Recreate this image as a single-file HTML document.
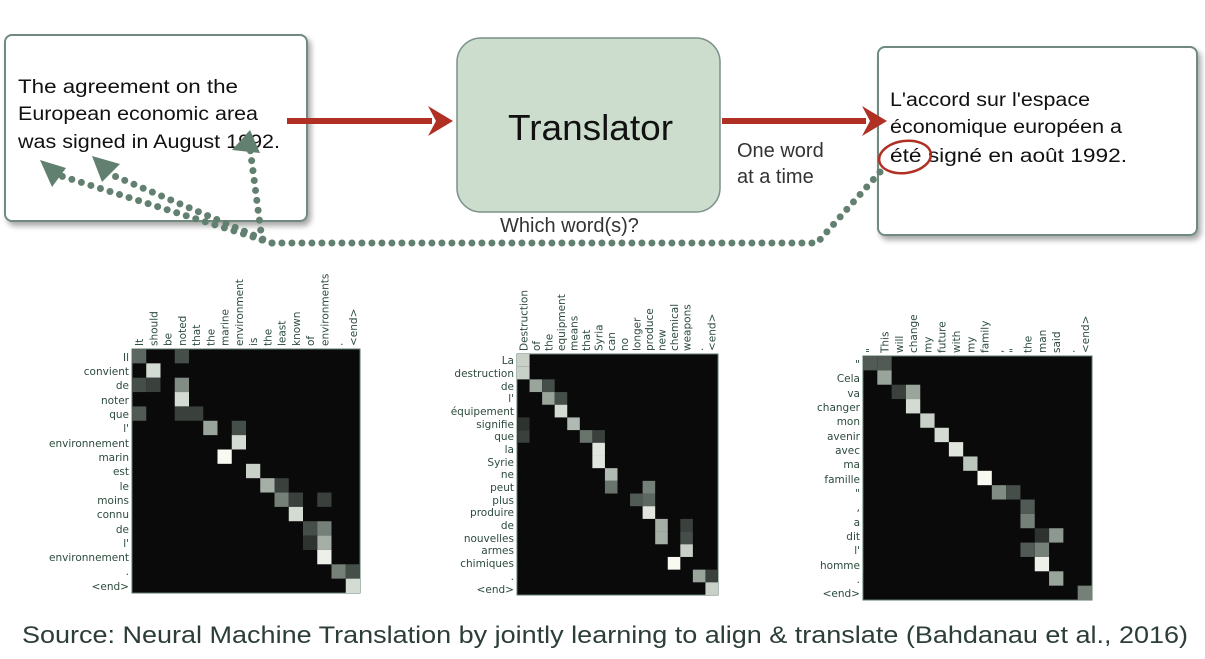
<!DOCTYPE html>
<html><head><meta charset="utf-8"><style>
html,body{margin:0;padding:0;background:#fff;width:1205px;height:659px;overflow:hidden}
svg{display:block}
.t{font-family:"Liberation Sans",sans-serif;fill:#111}
.l{font-family:"DejaVu Sans","Liberation Sans",sans-serif;font-size:10.5px;fill:#2c4a3c}
</style></head><body>
<svg id="s" width="1205" height="659" viewBox="0 0 1205 659" xmlns="http://www.w3.org/2000/svg">
<defs>
<filter id="sh" x="-10%" y="-10%" width="130%" height="130%"><feGaussianBlur in="SourceAlpha" stdDeviation="3"/><feOffset dx="3" dy="4"/><feComponentTransfer><feFuncA type="linear" slope="0.35"/></feComponentTransfer><feMerge><feMergeNode/><feMergeNode in="SourceGraphic"/></feMerge></filter>
</defs>
<rect x="5" y="35" width="302" height="186" rx="7" fill="#fff" stroke="#6f8a80" stroke-width="2" filter="url(#sh)"/>
<rect x="457" y="38" width="263" height="174" rx="24" fill="#ccdccd" stroke="#7a9088" stroke-width="1.5"/>
<rect x="878" y="47" width="319" height="188" rx="7" fill="#fff" stroke="#6f8a80" stroke-width="2" filter="url(#sh)"/>
<g lengthAdjust="spacingAndGlyphs">
<text class="t" x="18" y="93" font-size="19" textLength="220" lengthAdjust="spacingAndGlyphs">The agreement on the</text>
<text class="t" x="18" y="120" font-size="19" textLength="240" lengthAdjust="spacingAndGlyphs">European economic area</text>
<text class="t" x="18" y="148" font-size="19" textLength="262" lengthAdjust="spacingAndGlyphs">was signed in August 1992.</text>
<text class="t" x="508" y="140" font-size="36" textLength="165" lengthAdjust="spacingAndGlyphs">Translator</text>
<text class="t" x="890" y="106" font-size="19" textLength="200" lengthAdjust="spacingAndGlyphs">L'accord sur l'espace</text>
<text class="t" x="890" y="133" font-size="19" textLength="232" lengthAdjust="spacingAndGlyphs">économique européen a</text>
<text class="t" x="890" y="162" font-size="19" textLength="237" lengthAdjust="spacingAndGlyphs">été signé en août 1992.</text>
</g>
<ellipse cx="905" cy="157" rx="26" ry="16" fill="none" stroke="#b03024" stroke-width="2.5" transform="rotate(-8 905 157)"/>
<text class="t" x="737" y="157" font-size="20" style="fill:#333">One word</text>
<text class="t" x="737" y="183" font-size="20" style="fill:#333">at a time</text>
<text class="t" x="500" y="232" font-size="20" style="fill:#333">Which word(s)?</text>
<line x1="287" y1="121" x2="432" y2="121" stroke="#b03024" stroke-width="6"/>
<polygon points="428,106 453,121 428,136 436,121" fill="#b03024"/>
<line x1="722" y1="121" x2="866" y2="121" stroke="#b03024" stroke-width="6"/>
<polygon points="862,106 887,121 862,136 870,121" fill="#b03024"/>
<g fill="none" stroke="#62806f" stroke-width="7" stroke-linecap="round" stroke-dasharray="0 10">
<path d="M880,172 L817,243 L272,243"/>
<path d="M272,243 L58,175"/>
<path d="M272,243 L105,172"/>
<path d="M262,240 L250,148"/>
</g>
<polygon points="40,160 66,168 52,187" fill="#62806f"/>
<polygon points="92,156 120,164 102,182" fill="#62806f"/>
<polygon points="232,150 250,130 260,153" fill="#62806f"/>
<text class="t" x="22" y="643" font-size="24" textLength="1166" lengthAdjust="spacingAndGlyphs" style="fill:#2c3e36">Source: Neural Machine Translation by jointly learning to align &amp; translate (Bahdanau et al., 2016)</text>

<g class="l" text-anchor="end">
<text x="129" y="361">Il</text><text x="129" y="375">convient</text><text x="129" y="389">de</text><text x="129" y="404">noter</text><text x="129" y="418">que</text><text x="129" y="432">l'</text><text x="129" y="447">environnement</text><text x="129" y="461">marin</text><text x="129" y="475">est</text><text x="129" y="490">le</text><text x="129" y="504">moins</text><text x="129" y="518">connu</text><text x="129" y="533">de</text><text x="129" y="547">l'</text><text x="129" y="561">environnement</text><text x="129" y="575">.</text><text x="129" y="590">&lt;end&gt;</text>
</g>
<g class="l" id="c1">
<text>It</text><text>should</text><text>be</text><text>noted</text><text>that</text><text>the</text><text>marine</text><text>environment</text><text>is</text><text>the</text><text>least</text><text>known</text><text>of</text><text>environments</text><text>.</text><text>&lt;end&gt;</text>
</g>
<g class="l" text-anchor="end">
<text x="514" y="364">La</text><text x="514" y="377">destruction</text><text x="514" y="390">de</text><text x="514" y="402">l'</text><text x="514" y="415">équipement</text><text x="514" y="428">signifie</text><text x="514" y="440">que</text><text x="514" y="453">la</text><text x="514" y="466">Syrie</text><text x="514" y="478">ne</text><text x="514" y="491">peut</text><text x="514" y="504">plus</text><text x="514" y="516">produire</text><text x="514" y="529">de</text><text x="514" y="542">nouvelles</text><text x="514" y="554">armes</text><text x="514" y="567">chimiques</text><text x="514" y="580">.</text><text x="514" y="593">&lt;end&gt;</text>
</g>
<g class="l" id="c2">
<text>Destruction</text><text>of</text><text>the</text><text>equipment</text><text>means</text><text>that</text><text>Syria</text><text>can</text><text>no</text><text>longer</text><text>produce</text><text>new</text><text>chemical</text><text>weapons</text><text>.</text><text>&lt;end&gt;</text>
</g>
<g class="l" text-anchor="end">
<text x="860" y="368">"</text><text x="860" y="382">Cela</text><text x="860" y="397">va</text><text x="860" y="411">changer</text><text x="860" y="425">mon</text><text x="860" y="440">avenir</text><text x="860" y="454">avec</text><text x="860" y="468">ma</text><text x="860" y="483">famille</text><text x="860" y="497">"</text><text x="860" y="511">,</text><text x="860" y="526">a</text><text x="860" y="540">dit</text><text x="860" y="554">l'</text><text x="860" y="569">homme</text><text x="860" y="583">.</text><text x="860" y="597">&lt;end&gt;</text>
</g>
<g class="l" id="c3">
<text>"</text><text>This</text><text>will</text><text>change</text><text>my</text><text>future</text><text>with</text><text>my</text><text>family</text><text>,</text><text>"</text><text>the</text><text>man</text><text>said</text><text>.</text><text>&lt;end&gt;</text>
</g>
<g id="m"></g>
</svg>
<script>
var NS="http://www.w3.org/2000/svg",g=document.getElementById("m");
function col(v){var r=Math.round(10+238*v),gg=Math.round(10+240*v+40*v*(1-v)),b=Math.round(10+232*v+25*v*(1-v));return "rgb("+r+","+gg+","+b+")";}
function mat(x0,y0,x1,y1,R,C,cells,cid){
 var w=(x1-x0)/C,h=(y1-y0)/R;
 var bg=document.createElementNS(NS,"rect");bg.setAttribute("x",x0);bg.setAttribute("y",y0);bg.setAttribute("width",x1-x0);bg.setAttribute("height",y1-y0);bg.setAttribute("fill","#0a0a0a");bg.setAttribute("stroke","#5d7a6c");g.appendChild(bg);
 cells.forEach(function(c){var r=document.createElementNS(NS,"rect");r.setAttribute("x",x0+c[1]*w);r.setAttribute("y",y0+c[0]*h);r.setAttribute("width",w);r.setAttribute("height",h);r.setAttribute("fill",col(c[2]));g.appendChild(r);});
 var ts=document.getElementById(cid).children;
 for(var i=0;i<ts.length;i++){var cx=x0+(i+0.5)*w+4,cy=y0-3;ts[i].setAttribute("transform","translate("+cx+","+cy+") rotate(-90)");}
}
mat(132,349,360,593,17,16,[[0,0,.35],[0,3,.25],[1,1,.85],[2,0,.25],[2,1,.2],[2,3,.5],[3,3,.85],[4,0,.3],[4,3,.2],[4,4,.2],[5,5,.6],[5,7,.25],[6,7,.85],[7,6,1],[8,8,.8],[9,9,.65],[9,10,.2],[10,10,.45],[10,11,.2],[10,13,.2],[11,11,.85],[12,12,.25],[12,13,.45],[13,13,.65],[13,12,.15],[14,13,.95],[15,14,.45],[15,15,.25],[16,15,.85]],"c1");
mat(517,354,718,595,19,16,[[0,0,.8],[1,0,.8],[2,1,.6],[2,2,.25],[3,2,.6],[3,3,.25],[4,3,.85],[5,4,.7],[5,0,.15],[6,5,.4],[6,6,.2],[6,0,.2],[7,6,.9],[8,6,.9],[9,7,.7],[10,7,.4],[10,10,.45],[11,9,.3],[11,10,.35],[12,10,.9],[13,11,.65],[13,13,.2],[14,11,.65],[14,13,.25],[15,13,.8],[16,12,1],[17,14,.6],[17,15,.2],[18,15,.8]],"c2");
mat(863,356,1092,600,17,16,[[0,0,.3],[0,1,.3],[1,1,.6],[2,2,.2],[2,3,.6],[3,3,.85],[4,4,.8],[5,5,.85],[6,6,.9],[7,7,.75],[8,8,1],[9,9,.5],[9,10,.25],[10,11,.3],[11,11,.45],[12,13,.55],[12,12,.15],[13,12,.45],[13,11,.3],[14,12,.95],[15,13,.6],[16,15,.45]],"c3");
</script>
</body></html>
